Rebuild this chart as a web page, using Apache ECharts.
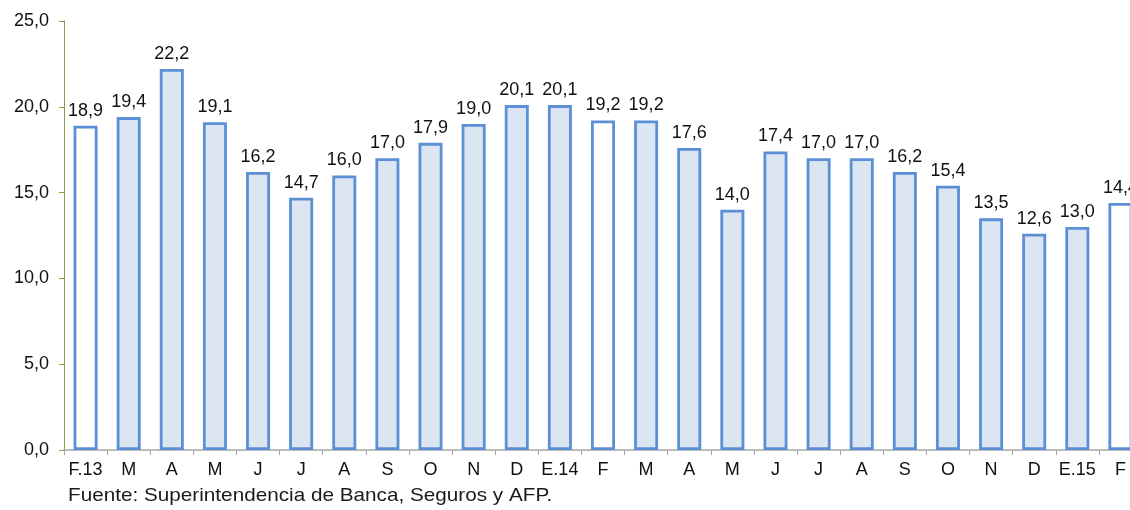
<!DOCTYPE html>
<html>
<head>
<meta charset="utf-8">
<script src="https://cdn.jsdelivr.net/npm/echarts@6/dist/echarts.min.js"></script>
<style>
html,body{margin:0;padding:0;background:#fff;}
#c{width:1130px;height:510px;}
</style>
</head>
<body>
<div id="c"></div>
<script>
var categories = ['F.13','M','A','M','J','J','A','S','O','N','D','E.14','F','M','A','M','J','J','A','S','O','N','D','E.15','F'];
var values = [18.9,19.4,22.2,19.1,16.2,14.7,16.0,17.0,17.9,19.0,20.1,20.1,19.2,19.2,17.6,14.0,17.4,17.0,17.0,16.2,15.4,13.5,12.6,13.0,14.4];
var whiteBars = [0,12,24];
var yTicks = [0,5,10,15,20,25];
var sourceText = 'Fuente: Superintendencia de Banca, Seguros y AFP.';

var chart = echarts.init(document.getElementById('c'));
var fmt = function(v){ return v.toFixed(1).replace('.', ','); };
chart.setOption({
  animation: false,
  textStyle: {fontFamily: 'Liberation Sans, Arial, sans-serif'},
  grid: {left: 64, top: 21, right: -12, bottom: 60, containLabel: false, outerBoundsMode: 'none'},
  graphic: [{
    type: 'text', left: 68, top: 486,
    scaleX: 1.09,
    style: {text: sourceText, font: '19px Liberation Sans, Arial, sans-serif', fill: '#1a1a1a'}
  }],
  xAxis: {
    type: 'category',
    data: categories,
    axisLine: {lineStyle: {color: '#a6a6a6', width: 1.5}},
    axisTick: {show: true, length: 5, lineStyle: {color: '#a6a6a6'}},
    axisLabel: {color: '#111', fontSize: 18, margin: 11, interval: 0}
  },
  yAxis: {
    type: 'value',
    min: 0, max: 25, interval: 5,
    axisLine: {show: true, lineStyle: {color: '#86a04a', width: 1}},
    axisTick: {show: true, length: 5, lineStyle: {color: '#86a04a'}},
    splitLine: {show: false},
    axisLabel: {color: '#111', fontSize: 18, margin: 15, formatter: function(v){ return fmt(v); }}
  },
  series: [{
    type: 'bar',
    barWidth: 24,
    data: values.map(function(v, i){
      return {value: v, itemStyle: {color: whiteBars.indexOf(i) >= 0 ? '#ffffff' : '#dce6f2'}};
    }),
    itemStyle: {borderColor: '#5b8fd6', borderWidth: 2.8},
    label: {show: true, position: 'top', distance: 6, color: '#111', fontSize: 18,
      formatter: function(p){ return fmt(p.value); }}
  }]
});
</script>
</body>
</html>
